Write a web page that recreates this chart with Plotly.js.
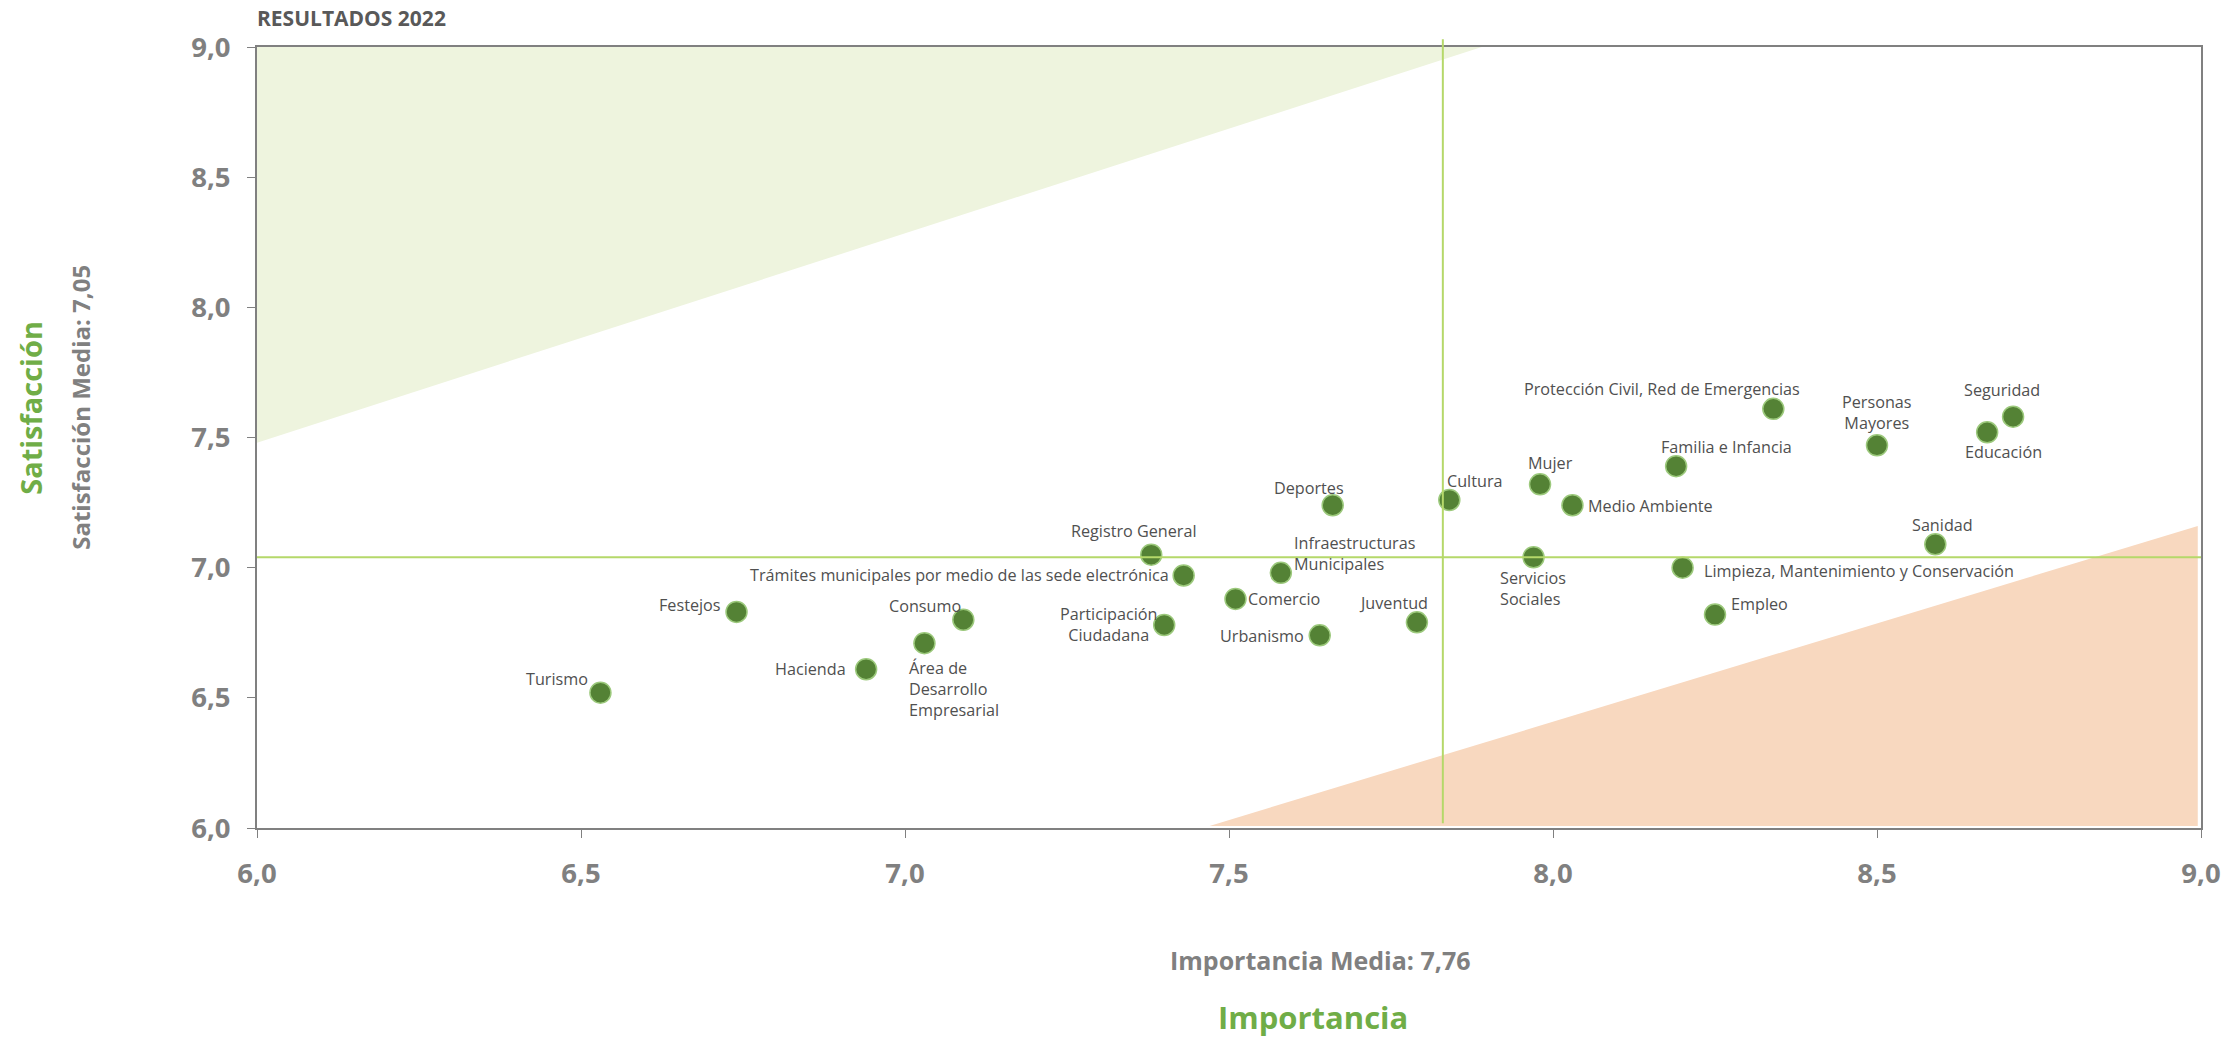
<!DOCTYPE html>
<html>
<head>
<meta charset="utf-8">
<script src="https://cdn.plot.ly/plotly-3.0.1.min.js"></script>
<style>
  html, body { margin: 0; padding: 0; background: #ffffff; }
  #chart { width: 2238px; height: 1038px; }
</style>
</head>
<body>
<div id="chart"></div>
<script>
// ---- Data ----
const servicios = [
  "Turismo", "Festejos", "Hacienda", "Área de<br>Desarrollo<br>Empresarial", "Consumo",
  "Registro General", "Trámites municipales por medio de las sede electrónica",
  "Participación<br>Ciudadana", "Comercio", "Infraestructuras<br>Municipales",
  "Deportes", "Urbanismo", "Juventud", "Cultura", "Mujer", "Medio Ambiente",
  "Servicios<br>Sociales", "Familia e Infancia", "Protección Civil, Red de Emergencias",
  "Limpieza, Mantenimiento y Conservación", "Empleo", "Personas<br>Mayores",
  "Educación", "Seguridad", "Sanidad"
];
const importancia = [
  6.53, 6.74, 6.94, 7.03, 7.09,
  7.38, 7.43,
  7.40, 7.51, 7.58,
  7.66, 7.64, 7.79, 7.84, 7.98, 8.03,
  7.97, 8.19, 8.34,
  8.20, 8.25, 8.50,
  8.67, 8.71, 8.59
];
const satisfaccion = [
  6.52, 6.83, 6.61, 6.71, 6.80,
  7.05, 6.97,
  6.78, 6.88, 6.98,
  7.24, 6.74, 6.79, 7.26, 7.32, 7.24,
  7.04, 7.39, 7.61,
  7.00, 6.82, 7.47,
  7.52, 7.58, 7.09
];
const importanciaMediaTexto = "7,76";
const satisfaccionMediaTexto = "7,05";
const lineaImportancia = 7.83;   // where the vertical reference line is drawn
const lineaSatisfaccion = 7.04;  // where the horizontal reference line is drawn
const zonaVerdeX = [6.0, 7.89, 6.0];
const zonaVerdeY = [7.48, 9.0, 9.0];
const zonaNaranjaX = [7.47, 8.995, 8.995];
const zonaNaranjaY = [6.008, 6.008, 7.16];
const ejeTicks = [6.0, 6.5, 7.0, 7.5, 8.0, 8.5, 9.0];

// ---- Label placement (style only) ----
const labelPos = [
  ["right", "middle", -10, 14], ["right", "middle", -14, 7], ["right", "middle", -18, 0],
  ["left", "top", -17, -12], ["right", "middle", 0, 14],
  ["center", "middle", -17, 24], ["right", "middle", -13, 0],
  ["center", "middle", -56, 0], ["left", "middle", 11, 0], ["left", "middle", 11, 19],
  ["center", "middle", -24, 17], ["right", "middle", -14, -1], ["center", "middle", -23, 19],
  ["left", "middle", -4, 19], ["left", "middle", -14, 21], ["left", "middle", 14, -1],
  ["left", "top", -36, -8], ["left", "middle", -17, 19], ["right", "middle", 29, 20],
  ["left", "middle", 19, -3], ["left", "middle", 14, 11], ["center", "middle", 0, 33],
  ["center", "middle", 16, -20], ["center", "middle", -11, 27], ["center", "middle", 7, 19]
];

const labelFont = { family: "Open Sans, sans-serif", size: 16.2, color: "#505050" };
const gray = "#808080";
const green = "#70ad47";

const traces = [
  {
    x: zonaVerdeX, y: zonaVerdeY, type: "scatter", mode: "lines",
    fill: "toself", fillcolor: "#eef4de", line: { width: 0, color: "rgba(0,0,0,0)" },
    hoverinfo: "skip", showlegend: false
  },
  {
    x: zonaNaranjaX, y: zonaNaranjaY, type: "scatter", mode: "lines",
    fill: "toself", fillcolor: "#f8d8bf", line: { width: 0, color: "rgba(0,0,0,0)" },
    hoverinfo: "skip", showlegend: false
  },
  {
    x: importancia, y: satisfaccion, type: "scatter", mode: "markers",
    marker: { size: 21, color: "#548235", line: { color: "#9cc97c", width: 1.5 } },
    text: servicios, hoverinfo: "text", showlegend: false, cliponaxis: false
  }
];

const annotations = servicios.map((s, i) => ({
  x: importancia[i], y: satisfaccion[i], xref: "x", yref: "y",
  text: s, showarrow: false,
  xanchor: labelPos[i][0], yanchor: labelPos[i][1],
  xshift: labelPos[i][2], yshift: labelPos[i][3],
  align: labelPos[i][0] === "center" ? "center" : "left",
  font: labelFont
}));

annotations.push(
  { text: "<b>RESULTADOS 2022</b>", xref: "paper", yref: "paper", x: 0, y: 1,
    xanchor: "left", yanchor: "middle", yshift: 29, xshift: -1, showarrow: false, borderpad: 0,
    font: { family: "Open Sans, sans-serif", size: 21, color: "#595959" } },
  { text: "<b>Satisfacción</b>", xref: "paper", yref: "paper", x: 0, y: 0.538,
    xanchor: "center", yanchor: "middle", xshift: -226, textangle: -90, showarrow: false,
    font: { family: "Open Sans, sans-serif", size: 29, color: green } },
  { text: "<b>Satisfacción Media: " + satisfaccionMediaTexto + "</b>", xref: "paper", yref: "paper",
    x: 0, y: 0.538, xanchor: "center", yanchor: "middle", xshift: -176, textangle: -90, showarrow: false,
    font: { family: "Open Sans, sans-serif", size: 24, color: gray } },
  { text: "<b>Importancia Media: " + importanciaMediaTexto + "</b>", xref: "paper", yref: "paper",
    x: 0.5, y: 0, xanchor: "center", yanchor: "middle", xshift: 91, yshift: -132, showarrow: false,
    font: { family: "Open Sans, sans-serif", size: 25, color: gray } },
  { text: "<b>Importancia</b>", xref: "paper", yref: "paper",
    x: 0.5, y: 0, xanchor: "center", yanchor: "middle", xshift: 84, yshift: -189, showarrow: false,
    font: { family: "Open Sans, sans-serif", size: 31, color: green } }
);

const axisCommon = {
  range: [6, 9], tickvals: ejeTicks, tickformat: ".1f",
  showgrid: false, zeroline: false,
  showline: true, mirror: true, linecolor: gray, linewidth: 2,
  ticks: "outside", ticklen: 8, tickcolor: gray, tickwidth: 1,
  tickfont: { family: "Open Sans, sans-serif", size: 27.5, color: gray, weight: "bold" },
  fixedrange: true
};

const layout = {
  width: 2238, height: 1038,
  margin: { l: 257, r: 37, t: 47, b: 210 },
  paper_bgcolor: "#ffffff", plot_bgcolor: "#ffffff",
  separators: ",.",
  showlegend: false,
  xaxis: Object.assign({}, axisCommon, { ticklabelstandoff: 12 }),
  yaxis: Object.assign({}, axisCommon, { ticklabelstandoff: 11 }),
  shapes: [
    { type: "line", xref: "x", yref: "y", x0: 6, x1: 9, y0: lineaSatisfaccion, y1: lineaSatisfaccion,
      line: { color: "#b5d86a", width: 2 }, layer: "above" },
    { type: "line", xref: "x", yref: "paper", x0: lineaImportancia, x1: lineaImportancia, y0: 0.006, y1: 1.01,
      line: { color: "#b5d86a", width: 2 }, layer: "above" }
  ],
  annotations: annotations
};

Plotly.newPlot("chart", traces, layout, { staticPlot: true, displayModeBar: false });
</script>
</body>
</html>
